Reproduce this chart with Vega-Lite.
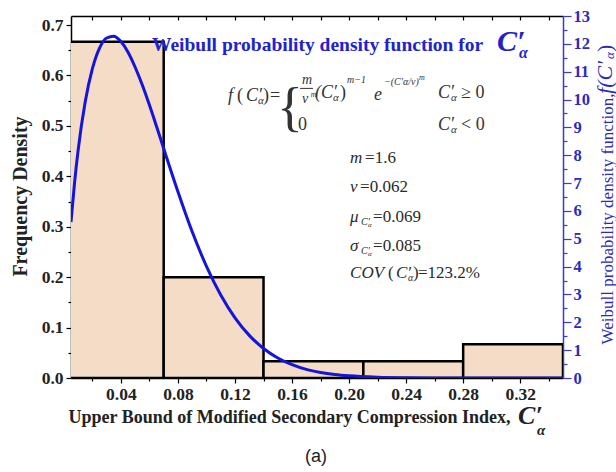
{
"$schema":"https://vega.github.io/schema/vega-lite/v6.json",
"width":492,"height":362,
"autosize":{"type":"none"},
"padding":{"left":71,"top":16,"right":53,"bottom":94},
"background":"white",
"config":{"view":{"stroke":null},"axis":{"grid":false,"labelFont":"Liberation Serif","titleFont":"Liberation Serif"},"text":{"font":"Liberation Serif"}},
"datasets":{
"hist":[
{"bin_start":0.0,"bin_end":0.07,"density":0.667},
{"bin_start":0.07,"bin_end":0.14,"density":0.2},
{"bin_start":0.14,"bin_end":0.21,"density":0.0333},
{"bin_start":0.21,"bin_end":0.28,"density":0.0333},
{"bin_start":0.28,"bin_end":0.35,"density":0.0667}],
"curve":[
{"x":0.005,"f":5.60},{"x":0.0075,"f":7.02},{"x":0.01,"f":8.18},{"x":0.015,"f":9.93},{"x":0.02,"f":11.11},{"x":0.025,"f":11.85},{"x":0.03,"f":12.21},{"x":0.035,"f":12.27},{"x":0.04,"f":12.08},{"x":0.045,"f":11.70},{"x":0.05,"f":11.16},{"x":0.055,"f":10.52},{"x":0.06,"f":9.80},{"x":0.065,"f":9.03},{"x":0.07,"f":8.24},{"x":0.08,"f":6.69},{"x":0.09,"f":5.25},{"x":0.10,"f":4.01},{"x":0.11,"f":2.98},{"x":0.12,"f":2.16},{"x":0.13,"f":1.53},{"x":0.14,"f":1.06},{"x":0.15,"f":0.72},{"x":0.16,"f":0.48},{"x":0.17,"f":0.31},{"x":0.18,"f":0.20},{"x":0.19,"f":0.125},{"x":0.20,"f":0.077},{"x":0.22,"f":0.028},{"x":0.24,"f":0.0095},{"x":0.26,"f":0.003},{"x":0.28,"f":0.001},{"x":0.30,"f":0.0003},{"x":0.35,"f":0.0}]
},
"layer":[
{"data":{"name":"hist"},
"mark":{"type":"rect","fill":"#f5dcc6","stroke":"#000000","strokeWidth":2.5,"clip":true},
"encoding":{
"x":{"field":"bin_start","type":"quantitative","scale":{"domain":[0.005,0.35],"nice":false,"zero":false},
"axis":{"orient":"bottom","values":[0.04,0.08,0.12,0.16,0.2,0.24,0.28,0.32],"format":".2f","labelFontWeight":"bold","labelFontSize":17.5,"labelColor":"#222222","labelFlush":false,"labelPadding":2,"tickColor":"#000000","tickSize":5,"tickWidth":1.2,"domainColor":"#000000","domainWidth":1.5,
"title":"Upper Bound of Modified Secondary Compression Index,","titleFontSize":18,"titleFontWeight":"bold","titleColor":"#222222","titleX":218,"titleY":39,"titleAlign":"center","titleBaseline":"middle"}},
"x2":{"field":"bin_end"},
"y":{"field":"density","type":"quantitative","scale":{"domain":[0,0.718],"nice":false},
"axis":{"orient":"left","values":[0,0.1,0.2,0.3,0.4,0.5,0.6,0.7],"format":".1f","labelFontWeight":"bold","labelFontSize":17.5,"labelColor":"#222222","labelFlush":false,"labelPadding":3,"tickColor":"#000000","tickSize":5,"tickWidth":1.2,"domainColor":"#000000","domainWidth":1.5,
"title":"Frequency Density","titleFontSize":20,"titleFontWeight":"bold","titleColor":"#222222","titleAngle":270,"titleX":-51,"titleY":180,"titleAlign":"center","titleBaseline":"middle"}},
"y2":{"datum":0}}},
{"data":{"values":[{}]},
"mark":{"type":"point","opacity":0},
"encoding":{
"x":{"datum":0.1,"type":"quantitative","scale":{"domain":[0.005,0.35],"nice":false,"zero":false},
"axis":{"orient":"bottom","values":[0.02,0.06,0.1,0.14,0.18,0.22,0.26,0.3,0.34],"labels":false,"domain":false,"tickSize":3,"tickWidth":1.2,"tickColor":"#000000","title":null}},
"y":{"datum":0.1,"type":"quantitative","scale":{"domain":[0,0.718],"nice":false},
"axis":{"orient":"left","values":[0.05,0.15,0.25,0.35,0.45,0.55,0.65],"labels":false,"domain":false,"tickSize":3,"tickWidth":1.2,"tickColor":"#000000","title":null}}}},
{"data":{"values":[{}]},
"mark":{"type":"point","opacity":0},
"encoding":{
"x":{"datum":0.1,"type":"quantitative","scale":{"domain":[0.005,0.35],"nice":false,"zero":false},
"axis":{"orient":"top","values":[0.02,0.04,0.06,0.08,0.1,0.12,0.14,0.16,0.18,0.2,0.22,0.24,0.26,0.28,0.3,0.32,0.34],"labels":false,"domain":true,"domainColor":"#000000","domainWidth":1.5,"tickSize":-4,"tickWidth":1.2,"tickColor":"#000000","title":null}},
"y":{"datum":0.1,"type":"quantitative","scale":{"domain":[0,0.718],"nice":false},"axis":null}}},
{"data":{"name":"curve"},
"mark":{"type":"line","color":"#1414dc","strokeWidth":3,"interpolate":"monotone","clip":true},
"encoding":{
"x":{"field":"x","type":"quantitative","scale":{"domain":[0.005,0.35],"nice":false,"zero":false},"axis":null},
"y":{"field":"f","type":"quantitative","scale":{"domain":[0,13],"nice":false},
"axis":{"orient":"right","values":[0,1,2,3,4,5,6,7,8,9,10,11,12,13],"format":"d","labelFontWeight":"bold","labelFontSize":16.5,"labelColor":"#2a2abf","labelFlush":false,"labelPadding":2,"tickColor":"#3a3acc","tickSize":8,"tickWidth":1.2,"domainColor":"#3a3acc","domainWidth":1.5,
"title":"Weibull probability density function,","titleColor":"#2a2abf","titleFontWeight":"normal","titleFontSize":17,"titleAngle":270,"titleX":44,"titleY":202.5,"titleAlign":"center","titleBaseline":"middle"}}}},
{"data":{"values":[{}]},
"mark":{"type":"point","opacity":0},
"encoding":{
"x":{"datum":0.1,"type":"quantitative","scale":{"domain":[0.005,0.35],"nice":false,"zero":false},"axis":null},
"y":{"datum":1,"type":"quantitative","scale":{"domain":[0,13],"nice":false},
"axis":{"orient":"right","values":[0.5,1.5,2.5,3.5,4.5,5.5,6.5,7.5,8.5,9.5,10.5,11.5,12.5],"labels":false,"domain":false,"tickSize":4,"tickWidth":1.2,"tickColor":"#3a3acc","title":null}}}},
{"data":{"values":[{}]},"mark":{"type":"text","text":"Weibull probability density function for","fontSize":19.5,"fontWeight":"bold","fill":"#2222cc","align":"left","baseline":"middle"},"encoding":{"x":{"datum":0.0618,"type":"quantitative","scale":{"domain":[0.005,0.35]},"axis":null},"y":{"datum":11.959,"type":"quantitative","scale":{"domain":[0,13]},"axis":null}}},
{"data":{"values":[{}]},"mark":{"type":"text","text":"C′","fontSize":30,"fontWeight":"bold","fontStyle":"italic","fill":"#2222cc","align":"left","baseline":"middle"},"encoding":{"x":{"datum":0.3037,"type":"quantitative","scale":{"domain":[0.005,0.35]},"axis":null},"y":{"datum":12.066,"type":"quantitative","scale":{"domain":[0,13]},"axis":null}}},
{"data":{"values":[{}]},"mark":{"type":"text","text":"α","fontSize":16,"fontWeight":"bold","fontStyle":"italic","fill":"#2222cc","align":"left","baseline":"middle"},"encoding":{"x":{"datum":0.3192,"type":"quantitative","scale":{"domain":[0.005,0.35]},"axis":null},"y":{"datum":11.671,"type":"quantitative","scale":{"domain":[0,13]},"axis":null}}},
{"data":{"values":[{}]},"mark":{"type":"text","text":"f","fontSize":18,"fontStyle":"italic","fill":"#333333","align":"left","baseline":"middle"},"encoding":{"x":{"datum":0.1151,"type":"quantitative","scale":{"domain":[0.005,0.35]},"axis":null},"y":{"datum":10.127,"type":"quantitative","scale":{"domain":[0,13]},"axis":null}}},
{"data":{"values":[{}]},"mark":{"type":"text","text":"(","fontSize":18,"fill":"#333333","align":"left","baseline":"middle"},"encoding":{"x":{"datum":0.1214,"type":"quantitative","scale":{"domain":[0.005,0.35]},"axis":null},"y":{"datum":10.127,"type":"quantitative","scale":{"domain":[0,13]},"axis":null}}},
{"data":{"values":[{}]},"mark":{"type":"text","text":"C′","fontSize":18,"fontStyle":"italic","fill":"#333333","align":"left","baseline":"middle"},"encoding":{"x":{"datum":0.1277,"type":"quantitative","scale":{"domain":[0.005,0.35]},"axis":null},"y":{"datum":10.127,"type":"quantitative","scale":{"domain":[0,13]},"axis":null}}},
{"data":{"values":[{}]},"mark":{"type":"text","text":"α","fontSize":11,"fontStyle":"italic","fill":"#333333","align":"left","baseline":"middle"},"encoding":{"x":{"datum":0.1361,"type":"quantitative","scale":{"domain":[0.005,0.35]},"axis":null},"y":{"datum":9.948,"type":"quantitative","scale":{"domain":[0,13]},"axis":null}}},
{"data":{"values":[{}]},"mark":{"type":"text","text":")","fontSize":18,"fill":"#333333","align":"left","baseline":"middle"},"encoding":{"x":{"datum":0.1396,"type":"quantitative","scale":{"domain":[0.005,0.35]},"axis":null},"y":{"datum":10.127,"type":"quantitative","scale":{"domain":[0,13]},"axis":null}}},
{"data":{"values":[{}]},"mark":{"type":"text","text":"=","fontSize":18,"fill":"#333333","align":"left","baseline":"middle"},"encoding":{"x":{"datum":0.1445,"type":"quantitative","scale":{"domain":[0.005,0.35]},"axis":null},"y":{"datum":10.127,"type":"quantitative","scale":{"domain":[0,13]},"axis":null}}},
{"data":{"values":[{}]},"mark":{"type":"text","text":"{","fontSize":54,"fill":"#333333","align":"left","baseline":"middle"},"encoding":{"x":{"datum":0.1495,"type":"quantitative","scale":{"domain":[0.005,0.35]},"axis":null},"y":{"datum":9.660,"type":"quantitative","scale":{"domain":[0,13]},"axis":null}}},
{"data":{"values":[{}]},"mark":{"type":"text","text":"m","fontSize":14,"fontStyle":"italic","fill":"#333333","align":"center","baseline":"middle"},"encoding":{"x":{"datum":0.1705,"type":"quantitative","scale":{"domain":[0.005,0.35]},"axis":null},"y":{"datum":10.700,"type":"quantitative","scale":{"domain":[0,13]},"axis":null}}},
{"data":{"values":[{}]},"mark":{"type":"rule","stroke":"#333333","strokeWidth":1},"encoding":{"x":{"datum":0.1656,"type":"quantitative","scale":{"domain":[0.005,0.35]},"axis":null},"x2":{"datum":0.1747},"y":{"datum":10.400,"type":"quantitative","scale":{"domain":[0,13]},"axis":null}}},
{"data":{"values":[{}]},"mark":{"type":"text","text":"v","fontSize":14,"fontStyle":"italic","fill":"#333333","align":"center","baseline":"middle"},"encoding":{"x":{"datum":0.1692,"type":"quantitative","scale":{"domain":[0.005,0.35]},"axis":null},"y":{"datum":10.020,"type":"quantitative","scale":{"domain":[0,13]},"axis":null}}},
{"data":{"values":[{}]},"mark":{"type":"text","text":"m","fontSize":8,"fontStyle":"italic","fill":"#333333","align":"left","baseline":"middle"},"encoding":{"x":{"datum":0.1731,"type":"quantitative","scale":{"domain":[0.005,0.35]},"axis":null},"y":{"datum":10.163,"type":"quantitative","scale":{"domain":[0,13]},"axis":null}}},
{"data":{"values":[{}]},"mark":{"type":"text","text":"(C′","fontSize":18,"fontStyle":"italic","fill":"#333333","align":"left","baseline":"middle"},"encoding":{"x":{"datum":0.1761,"type":"quantitative","scale":{"domain":[0.005,0.35]},"axis":null},"y":{"datum":10.235,"type":"quantitative","scale":{"domain":[0,13]},"axis":null}}},
{"data":{"values":[{}]},"mark":{"type":"text","text":"α","fontSize":11,"fontStyle":"italic","fill":"#333333","align":"left","baseline":"middle"},"encoding":{"x":{"datum":0.1887,"type":"quantitative","scale":{"domain":[0.005,0.35]},"axis":null},"y":{"datum":10.056,"type":"quantitative","scale":{"domain":[0,13]},"axis":null}}},
{"data":{"values":[{}]},"mark":{"type":"text","text":")","fontSize":18,"fill":"#333333","align":"left","baseline":"middle"},"encoding":{"x":{"datum":0.1936,"type":"quantitative","scale":{"domain":[0.005,0.35]},"axis":null},"y":{"datum":10.235,"type":"quantitative","scale":{"domain":[0,13]},"axis":null}}},
{"data":{"values":[{}]},"mark":{"type":"text","text":"m−1","fontSize":10,"fontStyle":"italic","fill":"#333333","align":"left","baseline":"middle"},"encoding":{"x":{"datum":0.1985,"type":"quantitative","scale":{"domain":[0.005,0.35]},"axis":null},"y":{"datum":10.700,"type":"quantitative","scale":{"domain":[0,13]},"axis":null}}},
{"data":{"values":[{}]},"mark":{"type":"text","text":"e","fontSize":18,"fontStyle":"italic","fill":"#333333","align":"left","baseline":"middle"},"encoding":{"x":{"datum":0.2175,"type":"quantitative","scale":{"domain":[0.005,0.35]},"axis":null},"y":{"datum":10.163,"type":"quantitative","scale":{"domain":[0,13]},"axis":null}}},
{"data":{"values":[{}]},"mark":{"type":"text","text":"−(C′α/v)","fontSize":10,"fontStyle":"italic","fill":"#333333","align":"left","baseline":"middle"},"encoding":{"x":{"datum":0.2245,"type":"quantitative","scale":{"domain":[0.005,0.35]},"axis":null},"y":{"datum":10.630,"type":"quantitative","scale":{"domain":[0,13]},"axis":null}}},
{"data":{"values":[{}]},"mark":{"type":"text","text":"m","fontSize":8,"fontStyle":"italic","fill":"#333333","align":"left","baseline":"middle"},"encoding":{"x":{"datum":0.2490,"type":"quantitative","scale":{"domain":[0.005,0.35]},"axis":null},"y":{"datum":10.774,"type":"quantitative","scale":{"domain":[0,13]},"axis":null}}},
{"data":{"values":[{}]},"mark":{"type":"text","text":"C′","fontSize":18,"fontStyle":"italic","fill":"#333333","align":"left","baseline":"middle"},"encoding":{"x":{"datum":0.2624,"type":"quantitative","scale":{"domain":[0.005,0.35]},"axis":null},"y":{"datum":10.235,"type":"quantitative","scale":{"domain":[0,13]},"axis":null}}},
{"data":{"values":[{}]},"mark":{"type":"text","text":"α","fontSize":11,"fontStyle":"italic","fill":"#333333","align":"left","baseline":"middle"},"encoding":{"x":{"datum":0.2715,"type":"quantitative","scale":{"domain":[0.005,0.35]},"axis":null},"y":{"datum":10.056,"type":"quantitative","scale":{"domain":[0,13]},"axis":null}}},
{"data":{"values":[{}]},"mark":{"type":"text","text":"≥ 0","fontSize":18,"fill":"#333333","align":"left","baseline":"middle"},"encoding":{"x":{"datum":0.2785,"type":"quantitative","scale":{"domain":[0.005,0.35]},"axis":null},"y":{"datum":10.235,"type":"quantitative","scale":{"domain":[0,13]},"axis":null}}},
{"data":{"values":[{}]},"mark":{"type":"text","text":"0","fontSize":18,"fill":"#333333","align":"left","baseline":"middle"},"encoding":{"x":{"datum":0.1642,"type":"quantitative","scale":{"domain":[0.005,0.35]},"axis":null},"y":{"datum":9.086,"type":"quantitative","scale":{"domain":[0,13]},"axis":null}}},
{"data":{"values":[{}]},"mark":{"type":"text","text":"C′","fontSize":18,"fontStyle":"italic","fill":"#333333","align":"left","baseline":"middle"},"encoding":{"x":{"datum":0.2624,"type":"quantitative","scale":{"domain":[0.005,0.35]},"axis":null},"y":{"datum":9.086,"type":"quantitative","scale":{"domain":[0,13]},"axis":null}}},
{"data":{"values":[{}]},"mark":{"type":"text","text":"α","fontSize":11,"fontStyle":"italic","fill":"#333333","align":"left","baseline":"middle"},"encoding":{"x":{"datum":0.2715,"type":"quantitative","scale":{"domain":[0.005,0.35]},"axis":null},"y":{"datum":8.907,"type":"quantitative","scale":{"domain":[0,13]},"axis":null}}},
{"data":{"values":[{}]},"mark":{"type":"text","text":"< 0","fontSize":18,"fill":"#333333","align":"left","baseline":"middle"},"encoding":{"x":{"datum":0.2785,"type":"quantitative","scale":{"domain":[0.005,0.35]},"axis":null},"y":{"datum":9.086,"type":"quantitative","scale":{"domain":[0,13]},"axis":null}}},
{"data":{"values":[{}]},"mark":{"type":"text","text":"m","fontSize":17,"fontStyle":"italic","fill":"#2a2a2a","align":"left","baseline":"middle"},"encoding":{"x":{"datum":0.2007,"type":"quantitative","scale":{"domain":[0.005,0.35]},"axis":null},"y":{"datum":7.901,"type":"quantitative","scale":{"domain":[0,13]},"axis":null}}},
{"data":{"values":[{}]},"mark":{"type":"text","text":"=1.6","fontSize":17,"fill":"#2a2a2a","align":"left","baseline":"middle"},"encoding":{"x":{"datum":0.2112,"type":"quantitative","scale":{"domain":[0.005,0.35]},"axis":null},"y":{"datum":7.901,"type":"quantitative","scale":{"domain":[0,13]},"axis":null}}},
{"data":{"values":[{}]},"mark":{"type":"text","text":"v","fontSize":17,"fontStyle":"italic","fill":"#2a2a2a","align":"left","baseline":"middle"},"encoding":{"x":{"datum":0.2007,"type":"quantitative","scale":{"domain":[0.005,0.35]},"axis":null},"y":{"datum":6.859,"type":"quantitative","scale":{"domain":[0,13]},"axis":null}}},
{"data":{"values":[{}]},"mark":{"type":"text","text":"=0.062","fontSize":17,"fill":"#2a2a2a","align":"left","baseline":"middle"},"encoding":{"x":{"datum":0.2077,"type":"quantitative","scale":{"domain":[0.005,0.35]},"axis":null},"y":{"datum":6.859,"type":"quantitative","scale":{"domain":[0,13]},"axis":null}}},
{"data":{"values":[{}]},"mark":{"type":"text","text":"μ","fontSize":17,"fontStyle":"italic","fill":"#2a2a2a","align":"left","baseline":"middle"},"encoding":{"x":{"datum":0.2007,"type":"quantitative","scale":{"domain":[0.005,0.35]},"axis":null},"y":{"datum":5.782,"type":"quantitative","scale":{"domain":[0,13]},"axis":null}}},
{"data":{"values":[{}]},"mark":{"type":"text","text":"C′","fontSize":10,"fontStyle":"italic","fill":"#2a2a2a","align":"left","baseline":"middle"},"encoding":{"x":{"datum":0.2084,"type":"quantitative","scale":{"domain":[0.005,0.35]},"axis":null},"y":{"datum":5.602,"type":"quantitative","scale":{"domain":[0,13]},"axis":null}}},
{"data":{"values":[{}]},"mark":{"type":"text","text":"α","fontSize":7,"fontStyle":"italic","fill":"#2a2a2a","align":"left","baseline":"middle"},"encoding":{"x":{"datum":0.2133,"type":"quantitative","scale":{"domain":[0.005,0.35]},"axis":null},"y":{"datum":5.495,"type":"quantitative","scale":{"domain":[0,13]},"axis":null}}},
{"data":{"values":[{}]},"mark":{"type":"text","text":"=0.069","fontSize":17,"fill":"#2a2a2a","align":"left","baseline":"middle"},"encoding":{"x":{"datum":0.2168,"type":"quantitative","scale":{"domain":[0.005,0.35]},"axis":null},"y":{"datum":5.782,"type":"quantitative","scale":{"domain":[0,13]},"axis":null}}},
{"data":{"values":[{}]},"mark":{"type":"text","text":"σ","fontSize":17,"fontStyle":"italic","fill":"#2a2a2a","align":"left","baseline":"middle"},"encoding":{"x":{"datum":0.2007,"type":"quantitative","scale":{"domain":[0.005,0.35]},"axis":null},"y":{"datum":4.740,"type":"quantitative","scale":{"domain":[0,13]},"axis":null}}},
{"data":{"values":[{}]},"mark":{"type":"text","text":"C′","fontSize":10,"fontStyle":"italic","fill":"#2a2a2a","align":"left","baseline":"middle"},"encoding":{"x":{"datum":0.2084,"type":"quantitative","scale":{"domain":[0.005,0.35]},"axis":null},"y":{"datum":4.561,"type":"quantitative","scale":{"domain":[0,13]},"axis":null}}},
{"data":{"values":[{}]},"mark":{"type":"text","text":"α","fontSize":7,"fontStyle":"italic","fill":"#2a2a2a","align":"left","baseline":"middle"},"encoding":{"x":{"datum":0.2133,"type":"quantitative","scale":{"domain":[0.005,0.35]},"axis":null},"y":{"datum":4.453,"type":"quantitative","scale":{"domain":[0,13]},"axis":null}}},
{"data":{"values":[{}]},"mark":{"type":"text","text":"=0.085","fontSize":17,"fill":"#2a2a2a","align":"left","baseline":"middle"},"encoding":{"x":{"datum":0.2168,"type":"quantitative","scale":{"domain":[0.005,0.35]},"axis":null},"y":{"datum":4.740,"type":"quantitative","scale":{"domain":[0,13]},"axis":null}}},
{"data":{"values":[{}]},"mark":{"type":"text","text":"COV","fontSize":17,"fontStyle":"italic","fill":"#2a2a2a","align":"left","baseline":"middle"},"encoding":{"x":{"datum":0.2007,"type":"quantitative","scale":{"domain":[0.005,0.35]},"axis":null},"y":{"datum":3.771,"type":"quantitative","scale":{"domain":[0,13]},"axis":null}}},
{"data":{"values":[{}]},"mark":{"type":"text","text":"(","fontSize":17,"fill":"#2a2a2a","align":"left","baseline":"middle"},"encoding":{"x":{"datum":0.2273,"type":"quantitative","scale":{"domain":[0.005,0.35]},"axis":null},"y":{"datum":3.771,"type":"quantitative","scale":{"domain":[0,13]},"axis":null}}},
{"data":{"values":[{}]},"mark":{"type":"text","text":"C′","fontSize":17,"fontStyle":"italic","fill":"#2a2a2a","align":"left","baseline":"middle"},"encoding":{"x":{"datum":0.2329,"type":"quantitative","scale":{"domain":[0.005,0.35]},"axis":null},"y":{"datum":3.771,"type":"quantitative","scale":{"domain":[0,13]},"axis":null}}},
{"data":{"values":[{}]},"mark":{"type":"text","text":"α","fontSize":10,"fontStyle":"italic","fill":"#2a2a2a","align":"left","baseline":"middle"},"encoding":{"x":{"datum":0.2413,"type":"quantitative","scale":{"domain":[0.005,0.35]},"axis":null},"y":{"datum":3.591,"type":"quantitative","scale":{"domain":[0,13]},"axis":null}}},
{"data":{"values":[{}]},"mark":{"type":"text","text":")","fontSize":17,"fill":"#2a2a2a","align":"left","baseline":"middle"},"encoding":{"x":{"datum":0.2448,"type":"quantitative","scale":{"domain":[0.005,0.35]},"axis":null},"y":{"datum":3.771,"type":"quantitative","scale":{"domain":[0,13]},"axis":null}}},
{"data":{"values":[{}]},"mark":{"type":"text","text":"=123.2%","fontSize":17,"fill":"#2a2a2a","align":"left","baseline":"middle"},"encoding":{"x":{"datum":0.2483,"type":"quantitative","scale":{"domain":[0.005,0.35]},"axis":null},"y":{"datum":3.771,"type":"quantitative","scale":{"domain":[0,13]},"axis":null}}},
{"data":{"values":[{}]},"mark":{"type":"text","text":"f(C′","fontSize":22,"fontStyle":"italic","fill":"#2a2abf","align":"left","baseline":"middle","angle":270},"encoding":{"x":{"datum":0.3795,"type":"quantitative","scale":{"domain":[0.005,0.35]},"axis":null},"y":{"datum":10.200,"type":"quantitative","scale":{"domain":[0,13]},"axis":null}}},
{"data":{"values":[{}]},"mark":{"type":"text","text":"α","fontSize":13,"fontStyle":"italic","fill":"#2a2abf","align":"left","baseline":"middle","angle":270},"encoding":{"x":{"datum":0.3830,"type":"quantitative","scale":{"domain":[0.005,0.35]},"axis":null},"y":{"datum":11.457,"type":"quantitative","scale":{"domain":[0,13]},"axis":null}}},
{"data":{"values":[{}]},"mark":{"type":"text","text":")","fontSize":22,"fill":"#2a2abf","align":"left","baseline":"middle","angle":270},"encoding":{"x":{"datum":0.3795,"type":"quantitative","scale":{"domain":[0.005,0.35]},"axis":null},"y":{"datum":11.708,"type":"quantitative","scale":{"domain":[0,13]},"axis":null}}},
{"data":{"values":[{}]},"mark":{"type":"text","text":"C′","fontSize":26,"fontWeight":"bold","fontStyle":"italic","fill":"#222222","align":"left","baseline":"middle"},"encoding":{"x":{"datum":0.3185,"type":"quantitative","scale":{"domain":[0.005,0.35]},"axis":null},"y":{"datum":-1.365,"type":"quantitative","scale":{"domain":[0,13]},"axis":null}}},
{"data":{"values":[{}]},"mark":{"type":"text","text":"α","fontSize":15,"fontWeight":"bold","fontStyle":"italic","fill":"#222222","align":"left","baseline":"middle"},"encoding":{"x":{"datum":0.3318,"type":"quantitative","scale":{"domain":[0.005,0.35]},"axis":null},"y":{"datum":-1.867,"type":"quantitative","scale":{"domain":[0,13]},"axis":null}}},
{"data":{"values":[{}]},"mark":{"type":"text","text":"(a)","font":"Liberation Sans","fontSize":18,"fill":"#222222","align":"center","baseline":"middle"},"encoding":{"x":{"datum":0.1768,"type":"quantitative","scale":{"domain":[0.005,0.35]},"axis":null},"y":{"datum":-2.837,"type":"quantitative","scale":{"domain":[0,13]},"axis":null}}}
],
"resolve":{"scale":{"y":"independent"},"axis":{"x":"independent","y":"independent"}}
}
